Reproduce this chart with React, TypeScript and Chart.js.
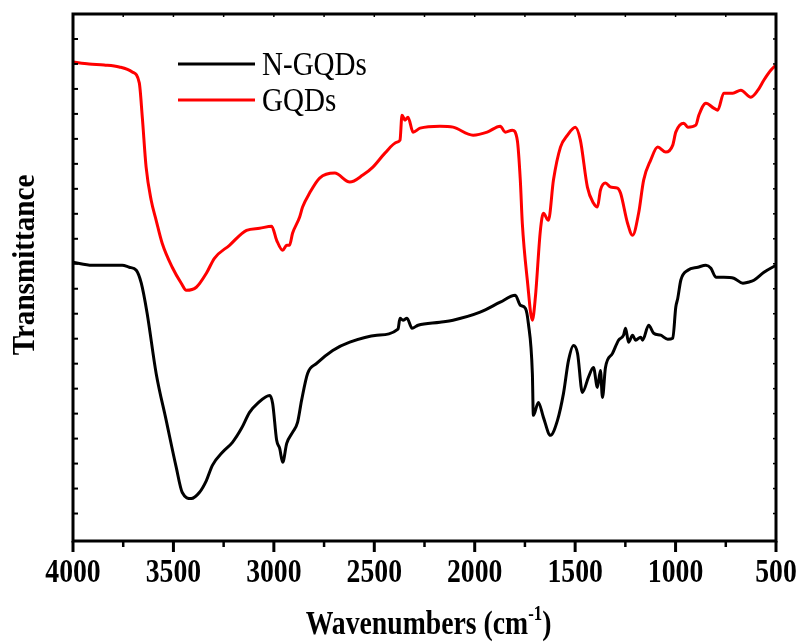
import { useEffect, useRef } from "react";
import { Chart, registerables } from "chart.js";

Chart.register(...registerables);

// FTIR spectra: wavenumber (cm^-1) and transmittance (arbitrary units)
const ngqdWave = [4000, 3905, 3820, 3755, 3720, 3685, 3660, 3631, 3586, 3536, 3486, 3456, 3411, 3371, 3336, 3306, 3256, 3206, 3161, 3121, 3081, 3021, 3006, 2986, 2971, 2956, 2936, 2907, 2882, 2862, 2832, 2787, 2707, 2622, 2487, 2382, 2372, 2357, 2337, 2312, 2282, 2173, 2108, 1973, 1873, 1798, 1773, 1748, 1733, 1713, 1708, 1683, 1658, 1623, 1588, 1558, 1533, 1508, 1488, 1464, 1434, 1409, 1389, 1374, 1364, 1349, 1314, 1284, 1259, 1249, 1234, 1214, 1199, 1174, 1164, 1134, 1109, 1074, 1039, 1014, 999, 989, 974, 939, 889, 849, 824, 799, 760, 710, 665, 640, 610, 560, 500];
const ngqdT = [11.06, 10.94, 10.94, 10.94, 10.86, 10.74, 10.22, 9.02, 6.61, 4.73, 2.85, 1.84, 1.6, 1.84, 2.32, 2.93, 3.45, 3.85, 4.41, 5.05, 5.41, 5.73, 5.41, 3.93, 3.61, 3.05, 3.81, 4.25, 4.65, 5.53, 6.61, 7.01, 7.53, 7.86, 8.14, 8.38, 8.82, 8.74, 8.82, 8.42, 8.54, 8.66, 8.74, 9.06, 9.46, 9.74, 9.34, 9.22, 8.62, 6.61, 4.93, 5.45, 4.85, 4.13, 4.73, 5.81, 7.13, 7.73, 7.41, 5.85, 6.45, 6.85, 6.05, 6.73, 5.65, 6.85, 7.41, 7.94, 8.14, 8.42, 7.86, 8.14, 7.94, 8.06, 7.94, 8.54, 8.22, 8.14, 7.98, 8.02, 9.26, 9.62, 10.34, 10.74, 10.86, 10.94, 10.82, 10.46, 10.46, 10.42, 10.22, 10.26, 10.34, 10.66, 10.94];

const gqdWave = [4000, 3920, 3845, 3770, 3705, 3670, 3655, 3636, 3611, 3586, 3556, 3506, 3461, 3436, 3386, 3336, 3296, 3221, 3136, 3071, 3011, 2986, 2956, 2936, 2922, 2907, 2872, 2857, 2822, 2772, 2697, 2622, 2557, 2507, 2447, 2387, 2372, 2362, 2347, 2332, 2307, 2272, 2173, 2108, 2008, 1938, 1873, 1848, 1813, 1788, 1773, 1763, 1738, 1713, 1698, 1673, 1658, 1633, 1608, 1573, 1538, 1499, 1474, 1439, 1409, 1389, 1374, 1349, 1324, 1289, 1274, 1239, 1214, 1184, 1159, 1124, 1089, 1049, 1014, 999, 959, 939, 899, 884, 849, 810, 790, 760, 715, 675, 625, 590, 560, 525, 500];
const gqdT = [19.08, 19.0, 18.96, 18.88, 18.68, 18.24, 16.87, 14.87, 13.55, 12.74, 11.82, 10.86, 10.22, 9.94, 10.06, 10.62, 11.22, 11.74, 12.34, 12.42, 12.5, 11.94, 11.54, 11.74, 11.74, 12.22, 12.86, 13.27, 13.83, 14.43, 14.63, 14.27, 14.55, 14.87, 15.43, 15.87, 15.95, 16.95, 16.75, 16.87, 16.27, 16.43, 16.51, 16.47, 16.15, 16.27, 16.51, 16.27, 16.35, 15.95, 14.35, 12.62, 10.34, 8.74, 9.66, 12.34, 13.02, 12.74, 14.35, 15.67, 16.15, 16.47, 15.95, 14.07, 13.43, 13.27, 13.95, 14.23, 14.07, 14.03, 13.83, 12.62, 12.14, 13.02, 14.35, 15.15, 15.67, 15.47, 15.75, 16.27, 16.63, 16.47, 16.55, 16.95, 17.43, 17.23, 17.15, 17.83, 17.83, 17.95, 17.67, 17.95, 18.36, 18.76, 18.96];

const seriesNames = ["N-GQDs", "GQDs"];
const seriesColors = ["#000000", "#ff0000"];

const xMajorTicks = [4000, 3500, 3000, 2500, 2000, 1500, 1000, 500];
const xTickLabels = ["4000", "3500", "3000", "2500", "2000", "1500", "1000", "500"];
const xMinorTicks = [3750, 3250, 2750, 2250, 1750, 1250, 750];
const yTicks = [1, 2, 3, 4, 5, 6, 7, 8, 9, 10, 11, 12, 13, 14, 15, 16, 17, 18, 19, 20];

const xTitle = "Wavenumbers (cm";
const xTitleSup = "-1";
const yTitle = "Transmittance";

const SERIF = '"Liberation Serif", "Times New Roman", serif';

function scaledText(
  ctx: CanvasRenderingContext2D,
  text: string,
  x: number,
  y: number,
  sx: number,
  align: CanvasTextAlign
) {
  ctx.save();
  ctx.translate(x, y);
  ctx.scale(sx, 1);
  ctx.textAlign = align;
  ctx.textBaseline = "alphabetic";
  ctx.fillText(text, 0, 0);
  ctx.restore();
}

function seg(ctx: CanvasRenderingContext2D, x1: number, y1: number, x2: number, y2: number, w: number) {
  ctx.lineWidth = w;
  ctx.beginPath();
  ctx.moveTo(x1, y1);
  ctx.lineTo(x2, y2);
  ctx.stroke();
}

const framePlugin = {
  id: "spectrumFrame",
  afterDraw(chart: any) {
    const { ctx, chartArea, scales } = chart;
    const { left, right, top, bottom } = chartArea;
    const x = scales.x;
    const y = scales.y;
    ctx.save();
    ctx.strokeStyle = "#000";
    ctx.fillStyle = "#000";
    ctx.lineCap = "butt";

    // box
    ctx.lineWidth = 3;
    ctx.strokeRect(left, top, right - left, bottom - top);

    // bottom ticks (outward), top ticks (inward)
    xMajorTicks.forEach((v) => {
      const px = x.getPixelForValue(v);
      seg(ctx, px, bottom, px, bottom + 11, 3);
      seg(ctx, px, top, px, top + 3, 1.5);
    });
    xMinorTicks.forEach((v) => {
      const px = x.getPixelForValue(v);
      seg(ctx, px, bottom, px, bottom + 6, 2.5);
      seg(ctx, px, top, px, top + 3, 1.5);
    });

    // side ticks (inward)
    yTicks.forEach((v) => {
      const py = y.getPixelForValue(v);
      seg(ctx, left, py, left + 5, py, 2);
      seg(ctx, right, py, right - 3, py, 1.5);
    });

    // tick labels
    ctx.font = `bold 33px ${SERIF}`;
    xMajorTicks.forEach((v, i) => {
      scaledText(ctx, xTickLabels[i], x.getPixelForValue(v), 582, 0.84, "center");
    });

    // x title with superscript
    const sx = 0.84;
    ctx.font = `bold 33px ${SERIF}`;
    const wMain = ctx.measureText(xTitle).width * sx;
    const wClose = ctx.measureText(")").width * sx;
    ctx.font = `bold 20px ${SERIF}`;
    const wSup = ctx.measureText(xTitleSup).width * sx;
    const total = wMain + wSup + wClose;
    let tx = (left + right) / 2 + 4 - total / 2;
    ctx.font = `bold 33px ${SERIF}`;
    scaledText(ctx, xTitle, tx, 634, sx, "left");
    tx += wMain;
    ctx.font = `bold 20px ${SERIF}`;
    scaledText(ctx, xTitleSup, tx, 620, sx, "left");
    tx += wSup;
    ctx.font = `bold 33px ${SERIF}`;
    scaledText(ctx, ")", tx, 634, sx, "left");

    // y title
    ctx.save();
    ctx.translate(34, 265);
    ctx.rotate(-Math.PI / 2);
    ctx.font = `bold 31px ${SERIF}`;
    scaledText(ctx, yTitle, 0, 0, 0.94, "center");
    ctx.restore();

    // legend
    const legendY = [64, 100];
    seriesNames.forEach((name, i) => {
      ctx.strokeStyle = seriesColors[i];
      seg(ctx, 178, legendY[i], 255, legendY[i], 3);
      ctx.fillStyle = "#000";
      ctx.font = `33px ${SERIF}`;
      scaledText(ctx, name, 262, legendY[i] + 11, 0.88, "left");
    });

    ctx.restore();
  },
};

export default function App() {
  const canvasRef = useRef<HTMLCanvasElement | null>(null);

  useEffect(() => {
    const canvas = canvasRef.current;
    if (!canvas) return;
    const toPoints = (w: number[], t: number[]) => w.map((v, i) => ({ x: v, y: t[i] }));

    const lineStyle = {
      borderWidth: 3,
      pointRadius: 0,
      fill: false,
      cubicInterpolationMode: "monotone" as const,
      borderJoinStyle: "round" as const,
      borderCapStyle: "round" as const,
    };

    const chart = new Chart(canvas, {
      type: "line",
      data: {
        datasets: [
          {
            label: seriesNames[0],
            data: toPoints(ngqdWave, ngqdT),
            borderColor: seriesColors[0],
            order: 2,
            ...lineStyle,
          },
          {
            label: seriesNames[1],
            data: toPoints(gqdWave, gqdT),
            borderColor: seriesColors[1],
            order: 1,
            ...lineStyle,
          },
        ],
      },
      options: {
        responsive: false,
        animation: false,
        devicePixelRatio: 1,
        layout: { padding: { left: 73, right: 28, top: 14, bottom: 102 } },
        plugins: { legend: { display: false }, tooltip: { enabled: false } },
        scales: {
          x: { type: "linear", reverse: true, min: 500, max: 4000, display: false },
          y: { type: "linear", min: -0.1, max: 21, display: false },
        },
      },
      plugins: [framePlugin],
    });
    return () => chart.destroy();
  }, []);

  return (
    <div style={{ position: "fixed", left: 0, top: 0, width: 804, height: 643, background: "#fff" }}>
      <canvas ref={canvasRef} width={804} height={643} style={{ display: "block" }} />
    </div>
  );
}
